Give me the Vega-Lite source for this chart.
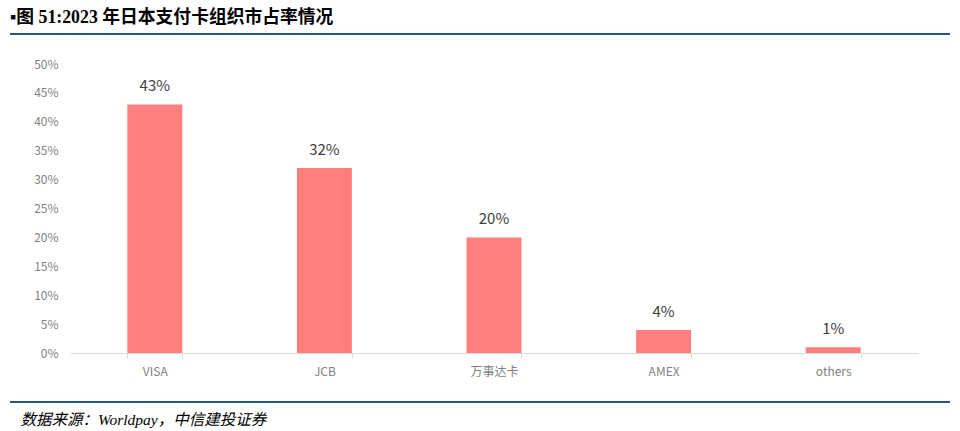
{
  "$schema": "https://vega.github.io/schema/vega-lite/v6.json",
  "width": 848,
  "height": 289,
  "autosize": "none",
  "padding": {"left": 70, "top": 64, "right": 42, "bottom": 78},
  "background": "white",
  "config": {"view": {"stroke": null}},
  "title": {
    "text": "▪图 51:2023 年日本支付卡组织市占率情况",
    "anchor": "start",
    "frame": "group",
    "dx": -60,
    "dy": 19,
    "offset": 7,
    "baseline": "bottom",
    "font": "Liberation Serif, Noto Sans CJK SC",
    "fontSize": 17.8,
    "fontWeight": "bold",
    "color": "#000000"
  },
  "layer": [
    {
      "data": {"values": [
        {"name": "VISA", "share": 0.43},
        {"name": "JCB", "share": 0.32},
        {"name": "万事达卡", "share": 0.20},
        {"name": "AMEX", "share": 0.04},
        {"name": "others", "share": 0.01}
      ]},
      "encoding": {
        "x": {
          "field": "name", "type": "nominal", "sort": null,
          "scale": {"paddingInner": 0.676, "paddingOuter": 0.338},
          "axis": {
            "title": "数据来源：Worldpay，中信建投证券",
            "titleFont": "Liberation Serif, Noto Sans CJK SC",
            "titleFontStyle": "italic",
            "titleFontWeight": "normal",
            "titleFontSize": 15.5,
            "titleColor": "#000000",
            "titleAlign": "left",
            "titleBaseline": "alphabetic",
            "titleX": -50,
            "titleY": 71,
            "labelAngle": 0,
            "labelFont": "Noto Sans CJK SC",
            "labelFontSize": 12,
            "labelColor": "#7f7f7f",
            "labelPadding": 8,
            "domainColor": "#d9d9d9",
            "tickColor": "#d9d9d9",
            "tickSize": 5,
            "tickBand": "extent",
            "grid": false
          }
        },
        "y": {
          "field": "share", "type": "quantitative",
          "scale": {"domain": [0, 0.5]},
          "axis": {
            "title": null,
            "values": [0, 0.05, 0.1, 0.15, 0.2, 0.25, 0.3, 0.35, 0.4, 0.45, 0.5],
            "format": ".0%",
            "labelOverlap": false,
            "labelFont": "Noto Sans CJK SC",
            "labelFontSize": 12,
            "labelColor": "#7f7f7f",
            "labelPadding": 12,
            "domain": false,
            "ticks": false,
            "grid": false
          }
        }
      },
      "layer": [
        {"mark": {"type": "bar", "color": "#ff7f7f"}},
        {
          "mark": {"type": "text", "baseline": "bottom", "dy": -10, "font": "Noto Sans CJK SC", "fontSize": 15, "color": "#404040"},
          "encoding": {"text": {"field": "share", "type": "quantitative", "format": ".0%"}}
        }
      ]
    },
    {
      "data": {"values": [
        {"a": 0, "b": 1, "pos": 0.5519},
        {"a": 0, "b": 1, "pos": -0.0848}
      ]},
      "mark": {"type": "rule", "color": "#1f5c8b", "strokeWidth": 2, "clip": false},
      "encoding": {
        "x": {"field": "a", "type": "quantitative", "scale": {"domain": [0, 1], "range": [-60, 880]}, "axis": null},
        "x2": {"field": "b"},
        "y": {"field": "pos", "type": "quantitative", "axis": null}
      }
    }
  ],
  "resolve": {"scale": {"x": "independent"}, "axis": {"x": "independent", "y": "independent"}}
}
